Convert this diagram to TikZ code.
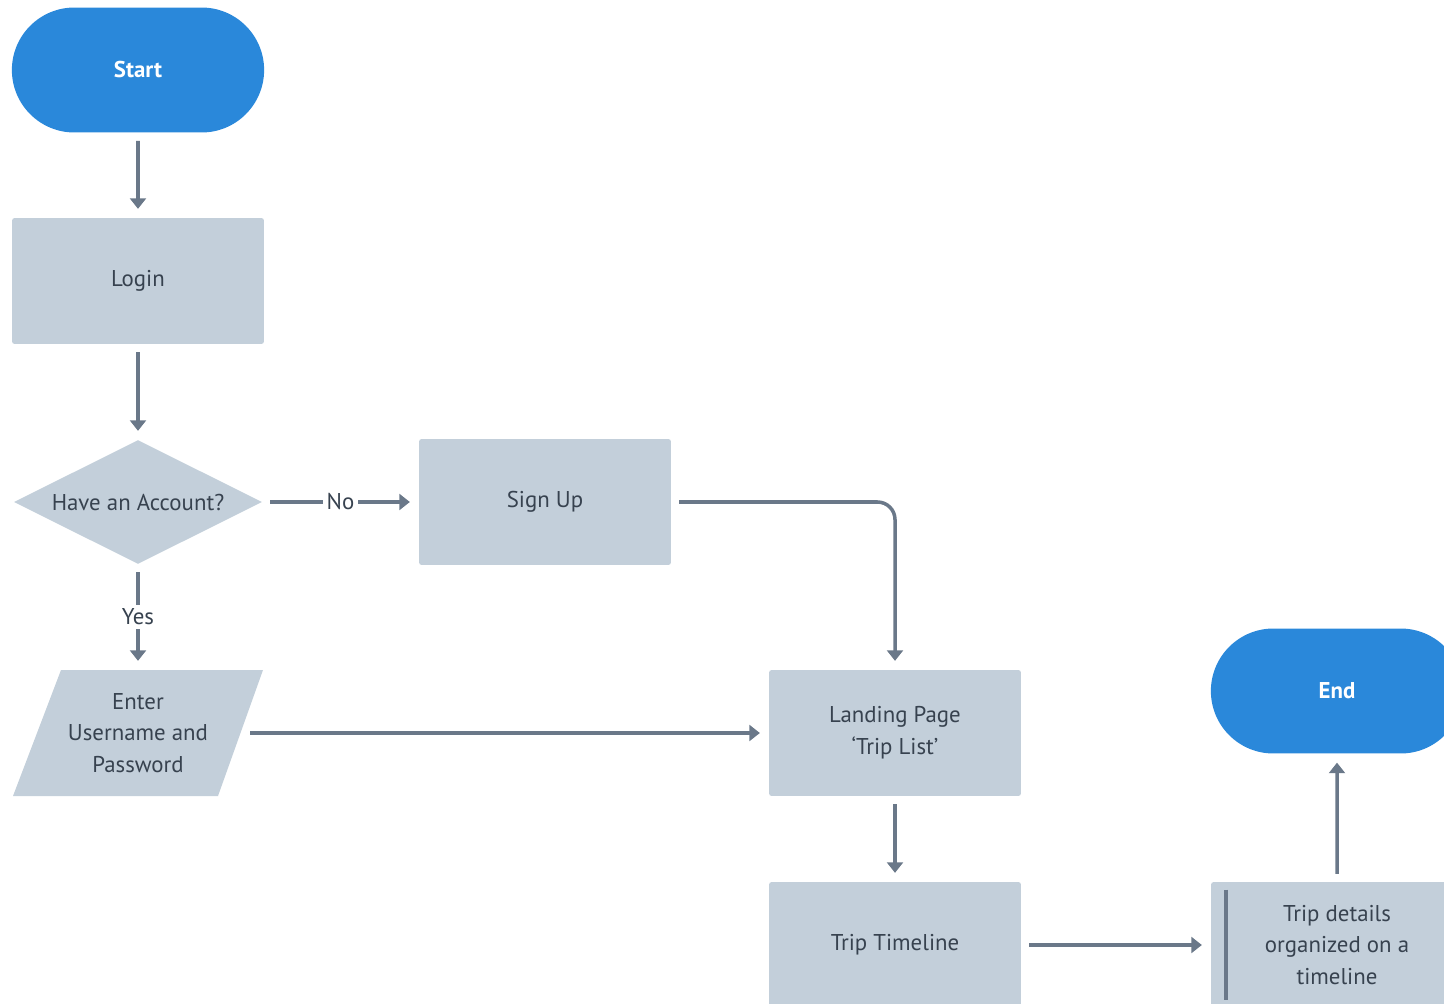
\documentclass[tikz,border=0pt]{standalone}
\usepackage{fontspec}
\setmainfont{PT Sans}
\usepackage{tikz}
\usetikzlibrary{calc,arrows.meta,shapes.geometric,shapes.misc}
\definecolor{flow_blue}{HTML}{2A88DA}
\definecolor{box_grey}{HTML}{C3CFDA}
\definecolor{line_grey}{HTML}{6A7889}
\definecolor{text_grey}{HTML}{37424F}

\begin{document}
\begin{tikzpicture}[x=0.02cm, y=-0.02cm,
    boxfont/.style={font=\fontsize{13}{18}\selectfont},
    terminal/.style={rounded rectangle, fill=flow_blue, text=white,
      font=\fontsize{13}{18}\selectfont\bfseries,
      minimum width=5.28cm, minimum height=2.5cm},
    process/.style={rectangle, rounded corners=1.5pt, fill=box_grey, text=text_grey, boxfont,
      align=center, minimum width=5.04cm, minimum height=2.52cm},
    decision/.style={diamond, fill=box_grey, text=text_grey, boxfont, aspect=2, inner sep=0pt,
      minimum width=4.96cm, minimum height=2.48cm},
    arrowline/.style={line_grey, line width=2pt, -{Triangle[width=9pt,length=6pt]},
      shorten <=4.5pt, shorten >=5pt},
    flowtext/.style={fill=white, text=text_grey, boxfont, inner sep=2pt}]
    \useasboundingbox (0,0) rectangle (1444,1004);
    \clip (0,0) rectangle (1444,1004);

    % left column
    \node[terminal] (start) at (138,70) {Start};
    \node[process] (login) at (138,281) {Login};
    \node[decision] (account) at (138,502) {Have an Account?};
    \fill[box_grey] (61,670) -- (263,670) -- (218,796) -- (13,796) -- cycle;
    \node[text=text_grey, boxfont, align=center, minimum width=4.48cm, minimum height=2.52cm]
      (enter) at (138,733) {Enter\\Username and\\Password};

    % middle and right
    \node[process] (signup) at (545,502) {Sign Up};
    \node[process] (landing) at (895,733) {Landing Page\\`Trip List'};
    \node[process] (timeline) at (895,945) {Trip Timeline};
    \node[process] (details) at (1337,945) {Trip details\\organized on a\\timeline};
    \draw[line_grey, line width=2.2pt] ($(details.north west)+(15,8)$) -- ($(details.south west)+(15,-8)$);
    \node[terminal] (end) at (1337,691) {End};

    \draw[arrowline] (start) -- (login);
    \draw[arrowline] (login) -- (account);
    \draw[arrowline] (account) -- node[flowtext] {No} (signup);
    \draw[arrowline] (account) -- node[flowtext] {Yes} (enter);
    \draw[arrowline, rounded corners=10pt] (signup.east) -| (landing.north);
    \draw[arrowline, shorten <=0pt] (enter.east) -- (landing);
    \draw[arrowline] (landing) -- (timeline);
    \draw[arrowline] (timeline) -- (details);
    \draw[arrowline] (details) -- (end);
\end{tikzpicture}
\end{document}
